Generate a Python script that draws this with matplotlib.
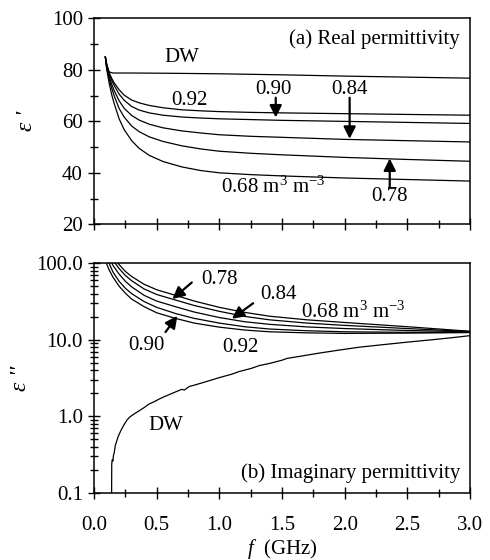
import matplotlib
matplotlib.use("Agg")
import matplotlib.pyplot as plt
from matplotlib.ticker import MultipleLocator, FixedLocator, LogLocator, FuncFormatter, NullFormatter

plt.rcParams['font.family'] = ['Liberation Serif', 'DejaVu Serif']
plt.rcParams['mathtext.fontset'] = 'custom'
plt.rcParams['mathtext.rm'] = 'Liberation Serif'
plt.rcParams['mathtext.it'] = 'Liberation Serif:italic'
plt.rcParams['font.size'] = 15

# ---------------- data: real permittivity ----------------
f_real = [0.09, 0.1, 0.12, 0.14, 0.16, 0.2, 0.24, 0.3, 0.36, 0.44, 0.55, 0.7, 0.85, 1.0, 1.25, 1.5, 2.0, 2.5, 3.0]
re_092 = [85, 82.5, 79, 76.8, 75, 72.3, 70.2, 68.3, 67.2, 66.2, 65.3, 64.5, 64.1, 63.8, 63.5, 63.3, 63.0, 62.7, 62.4]
re_090 = [85, 82.2, 78.5, 76.0, 74, 70.6, 68.2, 65.8, 64.4, 63.3, 62.4, 61.7, 61.3, 61.0, 60.7, 60.4, 60.0, 59.6, 59.2]
re_084 = [85, 81.5, 77.5, 74.5, 72, 68, 65.1, 62.3, 60.5, 58.9, 57.5, 56.3, 55.5, 54.8, 54.2, 53.8, 53.0, 52.5, 52.0]
re_078 = [85, 81, 76.5, 73.0, 70, 65, 61.7, 58.2, 56.0, 54.0, 52.2, 50.5, 49.3, 48.4, 47.6, 47.0, 46.0, 45.2, 44.5]
re_068 = [85, 80.5, 75, 70.5, 67, 61, 56.8, 52.5, 49.5, 46.8, 44.4, 42.3, 40.9, 40.0, 39.3, 38.8, 38.0, 37.4, 36.8]

f_dw_re = [0.09, 0.1, 0.12, 0.15, 0.3, 0.6, 1.0, 1.5, 2.0, 2.5, 3.0]
re_dw = [85, 82, 79.2, 78.8, 78.8, 78.7, 78.5, 78.1, 77.6, 77.2, 76.8]

# ---------------- data: imaginary permittivity ----------------
f_imag = [0.09, 0.1, 0.12, 0.15, 0.2, 0.25, 0.3, 0.4, 0.5, 0.65, 0.8, 1.0, 1.2, 1.4, 1.7, 2.0, 2.5, 3.0]
im_092 = [110, 98, 82, 66, 50, 40.5, 34, 27, 22.5, 19, 16.5, 14.6, 13.4, 12.7, 12.3, 12.1, 12.2, 12.4]
im_090 = [125, 112, 100, 77, 58, 47, 40, 31.5, 26.5, 22, 19, 16.5, 14.8, 13.8, 13.1, 12.7, 12.5, 12.5]
im_084 = [150, 135, 118, 94, 72, 58, 49, 38, 32, 27, 23, 19.5, 17.2, 15.9, 14.7, 14.0, 13.2, 12.7]
im_078 = [175, 155, 132, 110, 85, 69, 59, 46, 39, 33, 28, 23.5, 20.2, 18.2, 16.5, 15.4, 14.0, 12.8]
im_068 = [200, 180, 152, 122, 96, 78, 67, 53, 45, 38, 32, 26.5, 22.8, 20.3, 18.2, 16.8, 14.8, 12.9]

f_dw_im = [0.140, 0.141, 0.145, 0.15, 0.155, 0.16, 0.165, 0.17, 0.18, 0.19, 0.2, 0.21, 0.22, 0.24, 0.26,
           0.28, 0.3, 0.33, 0.36, 0.4, 0.44, 0.48, 0.52, 0.56, 0.6, 0.65, 0.7, 0.72, 0.76, 0.8,
           0.9, 1.0, 1.1, 1.16, 1.25, 1.32, 1.4, 1.5, 1.54, 1.65, 1.8, 1.95, 2.12, 2.3, 2.5,
           2.7, 2.85, 3.0]
im_dw = [0.1, 0.24, 0.27, 0.26, 0.31, 0.33, 0.37, 0.42, 0.47, 0.53, 0.58, 0.63, 0.68, 0.78, 0.88,
         0.96, 1.02, 1.1, 1.18, 1.3, 1.45, 1.55, 1.68, 1.8, 1.92, 2.08, 2.25, 2.2, 2.45, 2.55,
         2.85, 3.2, 3.55, 3.85, 4.2, 4.6, 4.9, 5.4, 5.7, 6.1, 6.7, 7.3, 8.0, 8.6, 9.3,
         10.0, 10.6, 11.3]

x_ticks = [0.0, 0.5, 1.0, 1.5, 2.0, 2.5, 3.0]
y_ticks_re = [20, 40, 60, 80, 100]
y_ticks_im = [0.1, 1.0, 10.0, 100.0]

fig = plt.figure(figsize=(4.9, 5.6), dpi=100)
ax1 = fig.add_axes([0.192, 0.5995, 0.767, 0.3675])
ax2 = fig.add_axes([0.192, 0.120, 0.767, 0.410])

lw = 0.9
ax1.plot(f_dw_re, re_dw, color='k', lw=lw)
for ys in (re_092, re_090, re_084, re_078, re_068):
    ax1.plot(f_real, ys, color='k', lw=lw)

ax2.plot(f_dw_im, im_dw, color='k', lw=lw)
for ys in (im_092, im_090, im_084, im_078, im_068):
    ax2.plot(f_imag, ys, color='k', lw=lw)

for ax in (ax1, ax2):
    ax.set_xlim(0, 3.0)
    ax.xaxis.set_major_locator(FixedLocator(x_ticks))
    ax.xaxis.set_minor_locator(MultipleLocator(0.25))
    for s in ax.spines.values():
        s.set_linewidth(1.1)
    ax.tick_params(which='both', direction='inout', top=False, right=False, width=1.0)
    ax.tick_params(which='major', length=9, labelsize=15)
    ax.tick_params(which='minor', length=6)

ax1.set_ylim(20, 100)
ax1.yaxis.set_major_locator(FixedLocator(y_ticks_re))
ax1.yaxis.set_minor_locator(MultipleLocator(10))
ax1.set_xticklabels([])
ax1.set_ylabel("ε '", fontstyle='italic', fontsize=17, labelpad=11)

ax2.set_yscale('log')
ax2.set_ylim(0.1, 100)
ax2.yaxis.set_major_locator(FixedLocator(y_ticks_im))
ax2.yaxis.set_minor_locator(LogLocator(base=10, subs=range(2, 10)))
ax2.yaxis.set_minor_formatter(NullFormatter())
ax2.yaxis.set_major_formatter(FuncFormatter(lambda v, p: f"{v:.1f}"))
ax2.xaxis.set_major_formatter(FuncFormatter(lambda v, p: f"{v:.1f}"))
ax2.tick_params(axis='x', which='major', pad=12)
ax2.set_ylabel("ε ''", fontstyle='italic', fontsize=17, labelpad=4)
ax2.set_xlabel(r"$f$  (GHz)", fontsize=15, labelpad=2)

arr = dict(arrowstyle='-|>', color='k', lw=1.6, mutation_scale=18, shrinkA=0, shrinkB=0)

# top panel labels
fs = 15
ax1.text(2.92, 92, "(a) Real permittivity", ha='right', va='center', fontsize=fs)
ax1.text(0.70, 84.7, "DW", ha='center', va='center', fontsize=fs)
ax1.text(0.76, 68.3, "0.92", ha='center', va='center', fontsize=fs)
ax1.text(1.43, 72.3, "0.90", ha='center', va='center', fontsize=fs)
ax1.annotate("", xy=(1.45, 61.5), xytext=(1.45, 69.2), arrowprops=arr)
ax1.text(2.04, 72.3, "0.84", ha='center', va='center', fontsize=fs)
ax1.annotate("", xy=(2.04, 53.2), xytext=(2.04, 69.2), arrowprops=arr)
ax1.text(2.36, 30.8, "0.78", ha='center', va='center', fontsize=fs)
ax1.annotate("", xy=(2.36, 45.6), xytext=(2.36, 34.0), arrowprops=arr)
ax1.text(1.43, 34.3, r"0.68 m$^{3}$ m$^{-3}$", ha='center', va='center', fontsize=fs)

# bottom panel labels
ax2.text(2.92, 0.18, "(b) Imaginary permittivity", ha='right', va='center', fontsize=fs)
ax2.text(0.57, 0.75, "DW", ha='center', va='center', fontsize=fs)
ax2.text(1.00, 62, "0.78", ha='center', va='center', fontsize=fs)
ax2.annotate("", xy=(0.625, 34), xytext=(0.78, 56), arrowprops=arr)
ax2.text(1.47, 39, "0.84", ha='center', va='center', fontsize=fs)
ax2.annotate("", xy=(1.10, 18.8), xytext=(1.27, 30), arrowprops=arr)
ax2.text(2.07, 23, r"0.68 m$^{3}$ m$^{-3}$", ha='center', va='center', fontsize=fs)
ax2.text(0.42, 8.3, "0.90", ha='center', va='center', fontsize=fs)
ax2.annotate("", xy=(0.665, 20.5), xytext=(0.57, 12.6), arrowprops=arr)
ax2.text(1.17, 8.0, "0.92", ha='center', va='center', fontsize=fs)

fig.savefig("out.png", dpi=100)
